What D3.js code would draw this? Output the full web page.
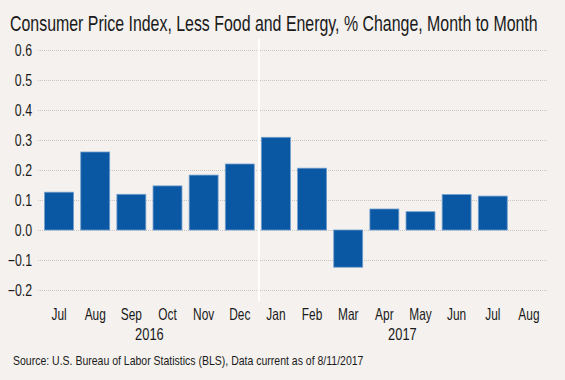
<!DOCTYPE html>
<html><head><meta charset="utf-8">
<script src="https://cdn.jsdelivr.net/npm/d3@7"></script>
<style>
html,body{margin:0;padding:0;background:#f4f1ee;}
svg{display:block;}
text{font-family:"Liberation Sans",Arial,sans-serif;fill:#1a1a1a;}
</style></head>
<body>
<svg id="c" width="565" height="380"></svg>
<script>
const months = ["Jul","Aug","Sep","Oct","Nov","Dec","Jan","Feb","Mar","Apr","May","Jun","Jul","Aug"];
const keys = months.map((m,i)=>m+"_"+i);
const values = [0.126,0.26,0.119,0.147,0.183,0.22,0.309,0.206,-0.124,0.07,0.061,0.118,0.113,null];
const yTicks = [-0.2,-0.1,0.0,0.1,0.2,0.3,0.4,0.5,0.6];
const years = [{label:"2016", between:[2,3]},{label:"2017", between:[9,10]}];
const title = "Consumer Price Index, Less Food and Energy, % Change, Month to Month";
const source = "Source: U.S. Bureau of Labor Statistics (BLS), Data current as of 8/11/2017";

const FONT = '"Liberation Sans",Arial,sans-serif';
function squeeze(sel, k){
  sel.each(function(){
    const n = this.getComputedTextLength();
    d3.select(this).attr("textLength", n*k).attr("lengthAdjust","spacingAndGlyphs");
  });
}
function fitScaled(g, t, target){
  const n = t.node().getComputedTextLength();
  const k = target / n;
  const x0 = +t.attr("x"), y0 = +t.attr("y");
  t.attr("x",0).attr("y",0);
  g.attr("transform",`translate(${x0},${y0}) scale(${k},1)`);
}

const svg = d3.select("#c");
svg.append("rect").attr("width",565).attr("height",380).attr("fill","#f4f1ee");

const y = d3.scaleLinear().domain([-0.2,0.6]).range([290,50]);
const x = d3.scaleBand().domain(keys).range([41,547]).paddingInner(0.2).paddingOuter(0.1);
const cx = k => x(k) + x.bandwidth()/2;

// gridlines
svg.append("g").selectAll("line").data(yTicks).join("line")
  .attr("x1",38).attr("x2",547)
  .attr("y1",d=>y(d)+0.5).attr("y2",d=>y(d)+0.5)
  .attr("stroke","#c9c5c1").attr("stroke-width",1).attr("stroke-dasharray","1,1");

// y axis labels
const yAxis = d3.axisLeft(y).tickValues(yTicks).tickFormat(d3.format(".1f")).tickSize(0).tickPadding(0);
const ya = svg.append("g").attr("transform","translate(32,0)").call(yAxis);
ya.select(".domain").remove();
ya.selectAll("text").attr("font-size",16).attr("fill","#1a1a1a").attr("font-family",FONT);
squeeze(ya.selectAll("text"), 0.77);

// separator white line
svg.append("line").attr("x1",259).attr("x2",259).attr("y1",39).attr("y2",301)
  .attr("stroke","#ffffff").attr("stroke-width",2);

// bars
svg.append("g").selectAll("rect").data(values.map((v,i)=>({k:keys[i],v})).filter(d=>d.v!==null)).join("rect")
  .attr("x",d=>x(d.k)).attr("width",x.bandwidth())
  .attr("y",d=>y(Math.max(0,d.v))).attr("height",d=>Math.abs(y(d.v)-y(0)))
  .attr("fill","#0a57a4").attr("stroke","#6f9ccc").attr("stroke-width",0.8);

// x labels
const xAxis = d3.axisBottom(x).tickFormat((d,i)=>months[i]).tickSize(0).tickPadding(0);
const xa = svg.append("g").attr("transform","translate(0,308.5)").call(xAxis);
xa.select(".domain").remove();
xa.selectAll("text").attr("font-size",16.5).attr("fill","#1a1a1a").attr("font-family",FONT);
squeeze(xa.selectAll("text"), 0.72);

// years
const yr = svg.append("g").selectAll("text").data(years).join("text")
  .attr("x",d=>(cx(keys[d.between[0]])+cx(keys[d.between[1]]))/2).attr("y",339.5).attr("text-anchor","middle")
  .attr("font-size",16.5).text(d=>d.label);
squeeze(yr, 0.78);

// title
const tg = svg.append("g");
const tt = tg.append("text").attr("x",10).attr("y",31).attr("font-size",22).text(title);
fitScaled(tg, tt, 528);
// source
const sg = svg.append("g");
const st = sg.append("text").attr("x",13).attr("y",365).attr("font-size",12.5).text(source);
fitScaled(sg, st, 351);
</script>
</body></html>
